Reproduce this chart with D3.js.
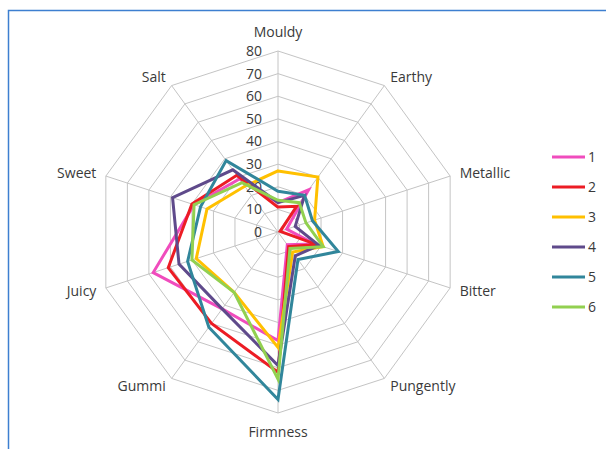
<!DOCTYPE html>
<html>
<head>
<meta charset="utf-8">
<script src="https://cdn.jsdelivr.net/npm/d3@7"></script>
<style>
  html, body { margin: 0; padding: 0; background: #ffffff; }
  svg { display: block; }
  text { font-family: "Open Sans", "Liberation Sans", sans-serif; fill: #3a3a3a; }
</style>
</head>
<body>
<svg id="chart" width="606" height="449"></svg>
<script>
// Sensory attributes (radar axes), clockwise from the top
const attributes = ["Mouldy", "Earthy", "Metallic", "Bitter", "Pungently",
                    "Firmness", "Gummi", "Juicy", "Sweet", "Salt"];

// Panel scores per sample, in attribute order
const sample1 = [13, 23, 4, 17, 7, 48, 42, 58, 39, 29];
const sample2 = [11, 14, 1, 18, 8, 62, 50, 51, 40, 31];
const sample3 = [27, 30, 17, 21, 11, 51, 33, 38, 33, 25];
const sample4 = [13, 20, 8, 19, 13, 59, 42, 46, 49, 34];
const sample5 = [18, 20, 16, 28, 15, 74, 52, 42, 36, 39];
const sample6 = [14, 16, 13, 21, 9, 65, 33, 40, 39, 27];

const seriesNames = ["1", "2", "3", "4", "5", "6"];
const seriesValues = [sample1, sample2, sample3, sample4, sample5, sample6];
const seriesColors = ["#f04cbd", "#ec1c24", "#ffc000", "#5f4a8b", "#31869b", "#92d050"];

const tickValues = [0, 10, 20, 30, 40, 50, 60, 70, 80];

const svg = d3.select("#chart");
const W = 606, H = 449;

// frame
svg.append("rect")
  .attr("x", 8.5).attr("y", 10.5)
  .attr("width", W + 10).attr("height", H + 10)
  .attr("fill", "#ffffff")
  .attr("stroke", "#3d7fd0")
  .attr("stroke-width", 1.5);

const cx = 278, cy = 232, R = 181;
const n = attributes.length;

const r = d3.scaleLinear().domain([0, 80]).range([0, R]);
const angle = d3.scaleLinear().domain([0, n]).range([0, 2 * Math.PI]);

const g = svg.append("g").attr("transform", `translate(${cx},${cy})`);

// concentric decagon grid
const ring = d3.lineRadial()
  .angle((d, i) => angle(i))
  .radius(d => r(d))
  .curve(d3.curveLinearClosed);

g.append("g").selectAll("path")
  .data(tickValues.filter(t => t > 0))
  .join("path")
  .attr("d", t => ring(attributes.map(() => t)))
  .attr("fill", "none")
  .attr("stroke", "#c4c4c4")
  .attr("stroke-width", 1);

// spokes
g.append("g").selectAll("line")
  .data(attributes)
  .join("line")
  .attr("x1", 0).attr("y1", 0)
  .attr("x2", (d, i) => r(80) * Math.sin(angle(i)))
  .attr("y2", (d, i) => -r(80) * Math.cos(angle(i)))
  .attr("stroke", "#c4c4c4")
  .attr("stroke-width", 1);

// value labels along the first spoke
g.append("g").selectAll("text")
  .data(tickValues)
  .join("text")
  .attr("x", -16)
  .attr("y", t => -r(t))
  .attr("dy", "0.35em")
  .attr("text-anchor", "end")
  .attr("font-size", 14)
  .text(t => t);

// attribute labels
g.append("g").selectAll("text")
  .data(attributes)
  .join("text")
  .each(function (d, i) {
    const a = angle(i);
    const s = Math.sin(a), c = Math.cos(a);
    let x = (R + 10) * s, y = -(R + 10) * c;
    let anchor = "middle";
    if (Math.abs(s) < 0.1) {
      y += c > 0 ? -9 : 9;
    } else {
      anchor = s > 0 ? "start" : "end";
    }
    d3.select(this)
      .attr("x", x).attr("y", y)
      .attr("dy", "0.35em")
      .attr("text-anchor", anchor)
      .attr("font-size", 14)
      .text(d);
  });

// sample profiles
const profile = d3.lineRadial()
  .angle((d, i) => angle(i))
  .radius(d => r(d))
  .curve(d3.curveLinearClosed);

g.append("g").selectAll("path")
  .data(seriesValues)
  .join("path")
  .attr("d", v => profile(v))
  .attr("fill", "none")
  .attr("stroke", (v, i) => seriesColors[i])
  .attr("stroke-width", 3)
  .attr("stroke-linejoin", "miter");

// legend
const legend = svg.append("g").attr("transform", "translate(552,157)");
const item = legend.selectAll("g")
  .data(seriesNames)
  .join("g")
  .attr("transform", (d, i) => `translate(0,${i * 30})`);
item.append("line")
  .attr("x1", 0).attr("x2", 33)
  .attr("y1", 0).attr("y2", 0)
  .attr("stroke", (d, i) => seriesColors[i])
  .attr("stroke-width", 3);
item.append("text")
  .attr("x", 36).attr("y", 0)
  .attr("dy", "0.35em")
  .attr("font-size", 14)
  .text(d => d);
</script>
</body>
</html>
